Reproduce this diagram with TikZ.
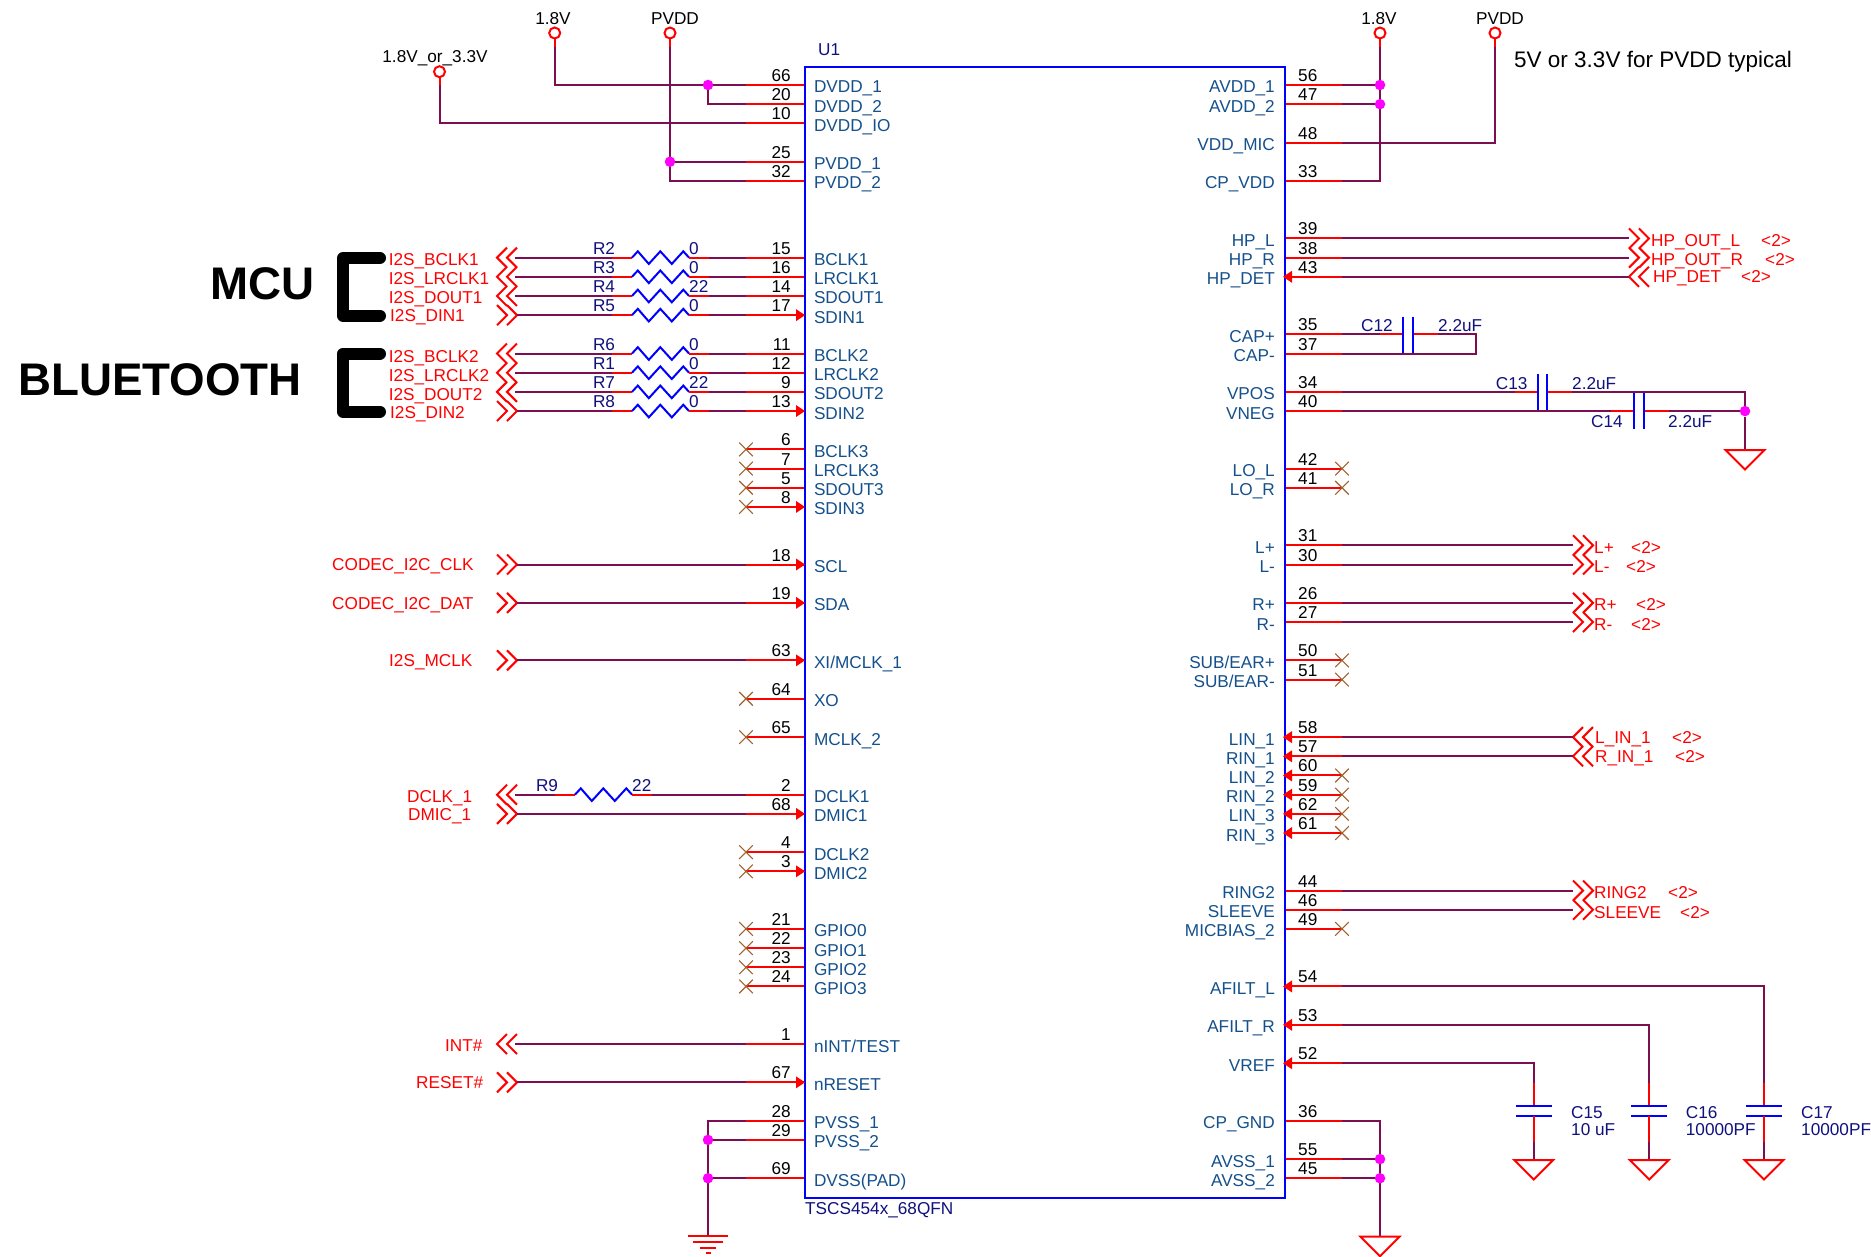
\documentclass[tikz,border=0pt]{standalone}
\usepackage{fontspec}
\setmainfont{Liberation Sans}
\catcode`\_=12
\definecolor{wirec}{HTML}{7B0F52}
\definecolor{pinnamec}{HTML}{14508C}
\definecolor{refc}{HTML}{10107F}
\definecolor{ncc}{HTML}{A0622D}
\definecolor{junc}{HTML}{FF00FF}
\tikzset{
  pinline/.style={draw=red,line width=2pt},
  wire/.style={draw=wirec,line width=2pt,line join=miter},
  redw/.style={draw=red,line width=2pt},
  bluel/.style={draw=blue,line width=2pt},
  txt/.style={inner sep=0pt,font=\fontsize{17.2}{17.2}\selectfont},
  pinname/.style={txt,text=pinnamec},
  pinnum/.style={txt,text=black},
  reflab/.style={txt,text=refc},
  siglab/.style={txt,text=red,anchor=base west},
  junction/.style={circle,fill=junc,inner sep=0pt,minimum size=10.5pt},
  ncmark/.style={draw=ncc,line width=1.1pt},
  gsym/.style={draw=red,line width=2pt,line join=miter},
  chev/.style={draw=red,line width=2pt,line join=miter},
  bracket/.style={draw=black,line width=12pt,line cap=round,line join=round},
  bigl/.style={inner sep=0pt,anchor=base west,font=\bfseries\fontsize{45.7}{45.7}\selectfont},
}
\newcommand\LPin[3]{%
  \pgfmathsetmacro\yy{85+19.18*#1}
  \coordinate (L#2) at (804,\yy);
  \coordinate (LE#2) at (746,\yy);
  \draw[pinline] (L#2) -- (LE#2);
  \node[pinname,anchor=base west] (LN#2) at (813.8,\yy+8) {#3};
  \node[pinnum,anchor=base east] (LP#2) at (791,\yy-3.5) {#2};
}
\newcommand\RPin[3]{%
  \pgfmathsetmacro\yy{85+19.18*#1}
  \coordinate (R#2) at (1284,\yy);
  \coordinate (RE#2) at (1342,\yy);
  \draw[pinline] (R#2) -- (RE#2);
  \node[pinname,anchor=base east] (RN#2) at (1275,\yy+8) {#3};
  \node[pinnum,anchor=base west] (RP#2) at (1298,\yy-3.5) {#2};
}
\newcommand\LArrow[1]{\fill[red] ([shift={(1,0)}]L#1) -- ++(-9,-6) -- ++(0,12) -- cycle;}
\newcommand\RArrow[1]{\fill[red] ([shift={(-1,0)}]R#1) -- ++(9,-6) -- ++(0,12) -- cycle;}
\newcommand\NCL[1]{\draw[ncmark] ([shift={(-6.8,-6.8)}]LE#1) -- ([shift={(6.8,6.8)}]LE#1) ([shift={(-6.8,6.8)}]LE#1) -- ([shift={(6.8,-6.8)}]LE#1);}
\newcommand\NCR[1]{\draw[ncmark] ([shift={(-6.8,-6.8)}]RE#1) -- ([shift={(6.8,6.8)}]RE#1) ([shift={(-6.8,6.8)}]RE#1) -- ([shift={(6.8,-6.8)}]RE#1);}
% >> connector: #1 name, #2 left x, #3 reference coordinate for y
\newcommand\ChevOut[3]{%
  \path (#3 -| #2,0) coordinate (#1-a);
  \draw[chev] ([shift={(0,-10)}]#1-a) -- ([shift={(10,0)}]#1-a) -- ([shift={(0,10)}]#1-a);
  \draw[chev] ([shift={(10,-10)}]#1-a) -- ([shift={(20,0)}]#1-a) -- ([shift={(10,10)}]#1-a);
  \coordinate (#1-tip) at ([shift={(20,0)}]#1-a);
}
% << connector
\newcommand\ChevIn[3]{%
  \path (#3 -| #2,0) coordinate (#1-a);
  \draw[chev] ([shift={(10,-10)}]#1-a) -- (#1-a) -- ([shift={(10,10)}]#1-a);
  \draw[chev] ([shift={(20,-10)}]#1-a) -- ([shift={(10,0)}]#1-a) -- ([shift={(20,10)}]#1-a);
  \coordinate (#1-tip) at ([shift={(18,0)}]#1-a);
}
% resistor on a left pin: #1 pin, #2 chev coordinate, #3 ref, #4 value, #5 x0
\newcommand\ResLine[5]{%
  \path (LE#1 -| #5,0) coordinate (r#1a);
  \coordinate (r#1b) at ([shift={(57,0)}]r#1a);
  \coordinate (r#1c) at ([shift={(-20,0)}]r#1a);
  \coordinate (r#1d) at ([shift={(20,0)}]r#1b);
  \draw[wire] (#2) -- (r#1c);
  \draw[redw] (r#1c) -- (r#1a);
  \draw[bluel] (r#1a) -- ++(5.8,-6.3) -- ++(11,12.6) -- ++(11.5,-12.6) -- ++(11.5,12.6) -- ++(11.5,-12.6) -- (r#1b);
  \draw[redw] (r#1b) -- (r#1d);
  \draw[wire] (r#1d) -- (LE#1);
  \node[reflab,anchor=base] (rn#1) at ([shift={(-28,-3.5)}]r#1a) {#3};
  \node[reflab,anchor=base west] (rv#1) at ([shift={(0,-3.5)}]r#1b) {#4};
}
\newcommand\Gnd[2]{%
  \draw[gsym] ([shift={(-19.5,0)}]#1) -- ([shift={(19.5,0)}]#1) -- ([shift={(0,19.5)}]#1) -- cycle;
}
\begin{document}
\begin{tikzpicture}[x=1pt,y=-1pt]
\useasboundingbox (0,0) rectangle (1871,1257);
\fill[white] (0,0) rectangle (1871,1257);
% pins, left
\LPin{0}{66}{DVDD_1}
\LPin{1}{20}{DVDD_2}
\LPin{2}{10}{DVDD_IO}
\LPin{4}{25}{PVDD_1}
\LPin{5}{32}{PVDD_2}
\LPin{9}{15}{BCLK1}
\LPin{10}{16}{LRCLK1}
\LPin{11}{14}{SDOUT1}
\LPin{12}{17}{SDIN1}
\LPin{14}{11}{BCLK2}
\LPin{15}{12}{LRCLK2}
\LPin{16}{9}{SDOUT2}
\LPin{17}{13}{SDIN2}
\LPin{19}{6}{BCLK3}
\LPin{20}{7}{LRCLK3}
\LPin{21}{5}{SDOUT3}
\LPin{22}{8}{SDIN3}
\LPin{25}{18}{SCL}
\LPin{27}{19}{SDA}
\LPin{30}{63}{XI/MCLK_1}
\LPin{32}{64}{XO}
\LPin{34}{65}{MCLK_2}
\LPin{37}{2}{DCLK1}
\LPin{38}{68}{DMIC1}
\LPin{40}{4}{DCLK2}
\LPin{41}{3}{DMIC2}
\LPin{44}{21}{GPIO0}
\LPin{45}{22}{GPIO1}
\LPin{46}{23}{GPIO2}
\LPin{47}{24}{GPIO3}
\LPin{50}{1}{nINT/TEST}
\LPin{52}{67}{nRESET}
\LPin{54}{28}{PVSS_1}
\LPin{55}{29}{PVSS_2}
\LPin{57}{69}{DVSS(PAD)}
% pins, right
\RPin{0}{56}{AVDD_1}
\RPin{1}{47}{AVDD_2}
\RPin{3}{48}{VDD_MIC}
\RPin{5}{33}{CP_VDD}
\RPin{8}{39}{HP_L}
\RPin{9}{38}{HP_R}
\RPin{10}{43}{HP_DET}
\RPin{13}{35}{CAP+}
\RPin{14}{37}{CAP-}
\RPin{16}{34}{VPOS}
\RPin{17}{40}{VNEG}
\RPin{20}{42}{LO_L}
\RPin{21}{41}{LO_R}
\RPin{24}{31}{L+}
\RPin{25}{30}{L-}
\RPin{27}{26}{R+}
\RPin{28}{27}{R-}
\RPin{30}{50}{SUB/EAR+}
\RPin{31}{51}{SUB/EAR-}
\RPin{34}{58}{LIN_1}
\RPin{35}{57}{RIN_1}
\RPin{36}{60}{LIN_2}
\RPin{37}{59}{RIN_2}
\RPin{38}{62}{LIN_3}
\RPin{39}{61}{RIN_3}
\RPin{42}{44}{RING2}
\RPin{43}{46}{SLEEVE}
\RPin{44}{49}{MICBIAS_2}
\RPin{47}{54}{AFILT_L}
\RPin{49}{53}{AFILT_R}
\RPin{51}{52}{VREF}
\RPin{54}{36}{CP_GND}
\RPin{56}{55}{AVSS_1}
\RPin{57}{45}{AVSS_2}
% chip
\node[draw=blue,line width=2pt,inner sep=0pt,minimum width=480pt,minimum height=1131.5pt,anchor=north west] (U1) at (804,65.7) {};
\node[reflab,anchor=base west] (U1ref) at (818,56) {U1};
\node[reflab,anchor=base west] (U1part) at (805,1214) {TSCS454x_68QFN};
% arrows
\foreach \p in {17,13,8,18,19,63,68,3,67} {\LArrow{\p}}
\foreach \p in {43,58,57,60,59,62,61,54,53,52} {\RArrow{\p}}
% no connects
\foreach \p in {6,7,5,8,64,65,4,3,21,22,23,24} {\NCL{\p}}
\foreach \p in {42,41,50,51,60,59,62,61,49} {\NCR{\p}}
% power left
\tikzset{pwr/.style={circle,draw=red,line width=2pt,fill=white,inner sep=0pt,minimum size=11pt},
  pwrlab/.style={txt,text=black,anchor=base}}
\coordinate (s18L) at (554.7,47);
\coordinate (spvL) at (670,47);
\coordinate (s33) at (439.5,85);
\draw[wire] (s18L) |- (LE66);
\draw[wire] (s33) |- (LE10);
\draw[wire] (spvL) |- (LE32);
\node[pwr] (p18L) at (554.7,33) {};
\node[pwr] (pvL) at (670,33) {};
\node[pwr] (p33) at (439.5,71.7) {};
\node[pwrlab] at (553,25) {1.8V};
\node[pwrlab] at (675,25) {PVDD};
\node[pwrlab] at (435,63) {1.8V_or_3.3V};
\draw[redw] (p18L) -- (s18L);
\draw[redw] (pvL) -- (spvL);
\draw[redw] (p33) -- (s33);
\node[junction] (j1) at (LE66 -| 708,0) {};
\draw[wire] (j1) |- (LE20);
\node[junction] (j2) at (LE25 -| 670,0) {};
\draw[wire] (j2) -- (LE25);
% power right
\coordinate (s18R) at (1380,47);
\coordinate (spvR) at (1495,47);
\draw[wire] (s18R) |- (RE33);
\draw[wire] (spvR) |- (RE48);
\node[pwr] (p18R) at (1380,33) {};
\node[pwr] (pvR) at (1495,33) {};
\node[pwrlab] at (1379,25) {1.8V};
\node[pwrlab] at (1500,25) {PVDD};
\draw[redw] (p18R) -- (s18R);
\draw[redw] (pvR) -- (spvR);
\node[junction] (j3) at (RE56 -| 1380,0) {};
\node[junction] (j4) at (RE47 -| 1380,0) {};
\draw[wire] (j3) -- (RE56);
\draw[wire] (j4) -- (RE47);
\node[txt,text=black,anchor=base west,font=\fontsize{22.5}{22.5}\selectfont] (note) at (1514,68) {5V or 3.3V for PVDD typical};
% big labels
\node[bigl] (mcu) at (210,300) {MCU};
\node[bigl] (bt) at (18,395) {BLUETOOTH};
\draw[bracket] (380,258) -- (343,258) -- (343,315.7) -- (380,315.7);
\draw[bracket] (380,353.7) -- (343,353.7) -- (343,411.7) -- (380,411.7);
% I2S groups
\ChevIn{c15}{497}{LE15}
\ChevIn{c16}{497}{LE16}
\ChevIn{c14}{497}{LE14}
\ChevOut{c17}{497}{LE17}
\ChevIn{c11}{497}{LE11}
\ChevIn{c12}{497}{LE12}
\ChevIn{c9}{497}{LE9}
\ChevOut{c13}{497}{LE13}
\ResLine{15}{c15-tip}{R2}{0}{632}
\ResLine{16}{c16-tip}{R3}{0}{632}
\ResLine{14}{c14-tip}{R4}{22}{632}
\ResLine{17}{c17-tip}{R5}{0}{632}
\ResLine{11}{c11-tip}{R6}{0}{632}
\ResLine{12}{c12-tip}{R1}{0}{632}
\ResLine{9}{c9-tip}{R7}{22}{632}
\ResLine{13}{c13-tip}{R8}{0}{632}
\node[siglab] (s1) at (388.6,266) {I2S_BCLK1};
\node[siglab] (s2) at (388.6,285) {I2S_LRCLK1};
\node[siglab] (s3) at (388.6,304) {I2S_DOUT1};
\node[siglab] (s4) at (390,321) {I2S_DIN1};
\node[siglab] (s5) at (388.6,362) {I2S_BCLK2};
\node[siglab] (s6) at (388.6,381) {I2S_LRCLK2};
\node[siglab] (s7) at (388.6,400) {I2S_DOUT2};
\node[siglab] (s8) at (390,418) {I2S_DIN2};
% left signals
\ChevOut{c18}{497}{LE18}
\ChevOut{c19}{497}{LE19}
\ChevOut{c63}{497}{LE63}
\ChevIn{c2}{497}{LE2}
\ChevOut{c68}{497}{LE68}
\ChevIn{c1}{497}{LE1}
\ChevOut{c67}{497}{LE67}
\draw[wire] (c18-tip) -- (LE18);
\draw[wire] (c19-tip) -- (LE19);
\draw[wire] (c63-tip) -- (LE63);
\draw[wire] (c68-tip) -- (LE68);
\draw[wire] (c1-tip) -- (LE1);
\draw[wire] (c67-tip) -- (LE67);
\ResLine{2}{c2-tip}{R9}{22}{575}
\node[siglab] at (332,570) {CODEC_I2C_CLK};
\node[siglab] at (332,609) {CODEC_I2C_DAT};
\node[siglab] at (389,666) {I2S_MCLK};
\node[siglab] at (407,802) {DCLK_1};
\node[siglab] at (408,820) {DMIC_1};
\node[siglab] at (445,1051) {INT\#};
\node[siglab] at (416,1088) {RESET\#};
% right signals
\ChevOut{c39}{1629}{RE39}
\ChevOut{c38}{1629}{RE38}
\ChevIn{c43}{1629}{RE43}
\draw[wire] (RE39) -- (c39-a);
\draw[wire] (RE38) -- (c38-a);
\draw[wire] (RE43) -- (c43-a);
\node[siglab] at (1651,247) {HP_OUT_L};
\node[siglab] at (1761,247) {<2>};
\node[siglab] at (1651,266) {HP_OUT_R};
\node[siglab] at (1765,266) {<2>};
\node[siglab] at (1653,283) {HP_DET};
\node[siglab] at (1741,283) {<2>};
\ChevOut{c31}{1573}{RE31}
\ChevOut{c30}{1573}{RE30}
\ChevOut{c26}{1573}{RE26}
\ChevOut{c27}{1573}{RE27}
\ChevIn{c58}{1573}{RE58}
\ChevIn{c57}{1573}{RE57}
\ChevOut{c44}{1573}{RE44}
\ChevOut{c46}{1573}{RE46}
\foreach \p in {31,30,26,27,58,57,44,46} {\draw[wire] (RE\p) -- (c\p-a);}
\node[siglab] at (1594,553) {L+};
\node[siglab] at (1631,553) {<2>};
\node[siglab] at (1594,572) {L-};
\node[siglab] at (1626,572) {<2>};
\node[siglab] at (1594,610) {R+};
\node[siglab] at (1636,610) {<2>};
\node[siglab] at (1594,630) {R-};
\node[siglab] at (1631,630) {<2>};
\node[siglab] at (1595,743) {L_IN_1};
\node[siglab] at (1672,743) {<2>};
\node[siglab] at (1595,762) {R_IN_1};
\node[siglab] at (1675,762) {<2>};
\node[siglab] at (1594,898) {RING2};
\node[siglab] at (1668,898) {<2>};
\node[siglab] at (1594,918) {SLEEVE};
\node[siglab] at (1680,918) {<2>};
% C12
\path (RE35 -| 1402.7,0) coordinate (c12a);
\path (RE35 -| 1413,0) coordinate (c12b);
\path (RE35 -| 1380,0) coordinate (c12c);
\path (RE35 -| 1438,0) coordinate (c12d);
\path (RE35 -| 1476,0) coordinate (c12e);
\draw[wire] (RE35) -- (c12c);
\draw[redw] (c12c) -- (c12a);
\draw[redw] (c12b) -- (c12d);
\draw[wire] (c12d) -- (c12e) |- (RE37);
\draw[bluel] (1402.7,316.7) -- (1402.7,352.5);
\draw[bluel] (1413,316.7) -- (1413,352.5);
\node[reflab,anchor=base] at (1377,331) {C12};
\node[reflab,anchor=base west] at (1438,331) {2.2uF};
% C13, C14
\path (RE40 -| 1745,0) coordinate (gJ);
\path (RE34 -| 1515,0) coordinate (c13c);
\path (RE34 -| 1538,0) coordinate (c13a);
\path (RE34 -| 1547,0) coordinate (c13b);
\path (RE34 -| 1572,0) coordinate (c13d);
\path (RE34 -| 1745,0) coordinate (c13e);
\path (RE40 -| 1611,0) coordinate (c14c);
\path (RE40 -| 1634,0) coordinate (c14a);
\path (RE40 -| 1644,0) coordinate (c14b);
\path (RE40 -| 1669,0) coordinate (c14d);
\draw[wire] (RE34) -- (c13c);
\draw[redw] (c13c) -- (c13a);
\draw[redw] (c13b) -- (c13d);
\draw[wire] (c13d) -- (c13e) -- (gJ);
\draw[wire] (RE40) -- (c14c);
\draw[redw] (c14c) -- (c14a);
\draw[redw] (c14b) -- (c14d);
\draw[wire] (c14d) -- (gJ);
\draw[bluel] (1538,374) -- (1538,410) (1547,374) -- (1547,410);
\draw[bluel] (1634,393) -- (1634,429) (1644,393) -- (1644,429);
\node[junction] (j5) at (gJ) {};
\coordinate (g1) at (1745,450);
\draw[wire] (j5) -- (g1);
\Gnd{g1}{}
\node[reflab,anchor=base] at (1511.6,389) {C13};
\node[reflab,anchor=base west] at (1572,389) {2.2uF};
\node[reflab,anchor=base] at (1607,427) {C14};
\node[reflab,anchor=base west] at (1668,427) {2.2uF};
% filter caps
\newcommand\FiltCap[5]{%
  \draw[wire] (RE#1) -| (#2,1083);
  \draw[redw] (#2,1083) -- (#2,1106);
  \draw[bluel] (#2-18,1106) -- (#2+18,1106) (#2-18,1116) -- (#2+18,1116);
  \draw[redw] (#2,1116) -- (#2,1141.7);
  \draw[wire] (#2,1141.7) -- (#2,1160);
  \coordinate (gc#1) at (#2,1160);
  \Gnd{gc#1}{}
  \node[reflab,anchor=base west] at (#3,1118) {#4};
  \node[reflab,anchor=base west] at (#3,1135) {#5};
}
\FiltCap{52}{1533.8}{1571}{C15}{10 uF}
\FiltCap{53}{1649.3}{1685.7}{C16}{10000PF}
\FiltCap{54}{1764}{1801}{C17}{10000PF}
% AVSS
\coordinate (g2) at (1380,1236.7);
\draw[wire] (RE36) -| (g2);
\node[junction] (j6) at (RE55 -| 1380,0) {};
\node[junction] (j7) at (RE45 -| 1380,0) {};
\draw[wire] (j6) -- (RE55);
\draw[wire] (j7) -- (RE45);
\Gnd{g2}{}
% PVSS
\coordinate (g3) at (708,1236);
\draw[wire] (LE28) -| (g3);
\node[junction] (j8) at (LE29 -| 708,0) {};
\node[junction] (j9) at (LE69 -| 708,0) {};
\draw[wire] (j8) -- (LE29);
\draw[wire] (j9) -- (LE69);
\draw[redw] (688,1236) -- (728,1236) (693,1241.7) -- (723,1241.7) (700,1247.7) -- (716,1247.7) (706,1253.3) -- (711,1253.3);
\end{tikzpicture}
\end{document}
